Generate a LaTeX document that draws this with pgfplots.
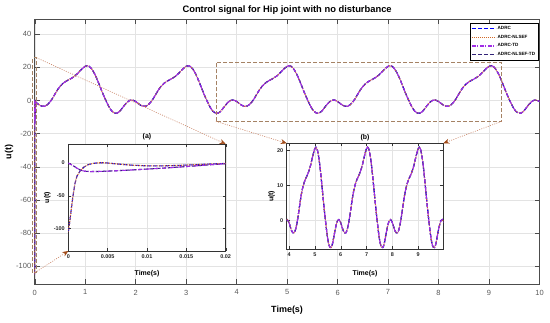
\documentclass[border=0pt]{standalone}
\usepackage{fontspec}
\setmainfont{Liberation Sans}
\usepackage{pgfplots}
\pgfplotsset{compat=1.18}
\usepackage{pgfplotstable}
\usetikzlibrary{arrows.meta}

\definecolor{cADRC}{RGB}{0,0,255}
\definecolor{cNLSEF}{RGB}{210,105,40}
\definecolor{cTD}{RGB}{160,45,230}
\definecolor{cNTD}{RGB}{50,35,120}
\definecolor{rectc}{RGB}{165,130,100}
\definecolor{arrc}{RGB}{160,75,25}
\definecolor{linec}{RGB}{200,130,100}

\pgfplotstableread[row sep=\\]{
t u\\
0.02 -1.0\\ 0.05 -1.8\\ 0.10 -2.9\\ 0.15 -3.5\\ 0.20 -3.5\\ 0.25 -2.6\\ 0.30 -1.0\\ 0.35 1.2\\ 0.40 3.8\\ 0.45 6.3\\
0.50 8.4\\ 0.55 10.0\\ 0.60 11.2\\ 0.65 12.1\\ 0.70 12.9\\ 0.75 13.8\\ 0.80 14.9\\ 0.85 16.3\\ 0.90 17.9\\ 0.95 19.4\\
1.00 20.6\\ 1.04 21.0\\ 1.08 20.6\\ 1.13 19.0\\ 1.18 16.5\\ 1.23 13.2\\ 1.28 9.5\\ 1.33 5.6\\ 1.38 2.0\\ 1.43 -1.3\\
1.48 -4.3\\ 1.53 -6.5\\ 1.58 -7.6\\ 1.63 -7.7\\ 1.68 -6.7\\ 1.73 -4.8\\ 1.78 -2.8\\ 1.83 -1.1\\ 1.88 0.0\\ 1.93 0.3\\
2.00 -0.6\\ 2.05 -1.8\\ 2.10 -2.9\\ 2.15 -3.5\\ 2.20 -3.5\\ 2.25 -2.6\\ 2.30 -1.0\\ 2.35 1.2\\ 2.40 3.8\\ 2.45 6.3\\
2.50 8.4\\ 2.55 10.0\\ 2.60 11.2\\ 2.65 12.1\\ 2.70 12.9\\ 2.75 13.8\\ 2.80 14.9\\ 2.85 16.3\\ 2.90 17.9\\ 2.95 19.4\\
3.00 20.6\\ 3.04 21.0\\ 3.08 20.6\\ 3.13 19.0\\ 3.18 16.5\\ 3.23 13.2\\ 3.28 9.5\\ 3.33 5.6\\ 3.38 2.0\\ 3.43 -1.3\\
3.48 -4.3\\ 3.53 -6.5\\ 3.58 -7.6\\ 3.63 -7.7\\ 3.68 -6.7\\ 3.73 -4.8\\ 3.78 -2.8\\ 3.83 -1.1\\ 3.88 0.0\\ 3.93 0.3\\
4.00 -0.6\\ 4.05 -1.8\\ 4.10 -2.9\\ 4.15 -3.5\\ 4.20 -3.5\\ 4.25 -2.6\\ 4.30 -1.0\\ 4.35 1.2\\ 4.40 3.8\\ 4.45 6.3\\
4.50 8.4\\ 4.55 10.0\\ 4.60 11.2\\ 4.65 12.1\\ 4.70 12.9\\ 4.75 13.8\\ 4.80 14.9\\ 4.85 16.3\\ 4.90 17.9\\ 4.95 19.4\\
5.00 20.6\\ 5.04 21.0\\ 5.08 20.6\\ 5.13 19.0\\ 5.18 16.5\\ 5.23 13.2\\ 5.28 9.5\\ 5.33 5.6\\ 5.38 2.0\\ 5.43 -1.3\\
5.48 -4.3\\ 5.53 -6.5\\ 5.58 -7.6\\ 5.63 -7.7\\ 5.68 -6.7\\ 5.73 -4.8\\ 5.78 -2.8\\ 5.83 -1.1\\ 5.88 0.0\\ 5.93 0.3\\
6.00 -0.6\\ 6.05 -1.8\\ 6.10 -2.9\\ 6.15 -3.5\\ 6.20 -3.5\\ 6.25 -2.6\\ 6.30 -1.0\\ 6.35 1.2\\ 6.40 3.8\\ 6.45 6.3\\
6.50 8.4\\ 6.55 10.0\\ 6.60 11.2\\ 6.65 12.1\\ 6.70 12.9\\ 6.75 13.8\\ 6.80 14.9\\ 6.85 16.3\\ 6.90 17.9\\ 6.95 19.4\\
7.00 20.6\\ 7.04 21.0\\ 7.08 20.6\\ 7.13 19.0\\ 7.18 16.5\\ 7.23 13.2\\ 7.28 9.5\\ 7.33 5.6\\ 7.38 2.0\\ 7.43 -1.3\\
7.48 -4.3\\ 7.53 -6.5\\ 7.58 -7.6\\ 7.63 -7.7\\ 7.68 -6.7\\ 7.73 -4.8\\ 7.78 -2.8\\ 7.83 -1.1\\ 7.88 0.0\\ 7.93 0.3\\
8.00 -0.6\\ 8.05 -1.8\\ 8.10 -2.9\\ 8.15 -3.5\\ 8.20 -3.5\\ 8.25 -2.6\\ 8.30 -1.0\\ 8.35 1.2\\ 8.40 3.8\\ 8.45 6.3\\
8.50 8.4\\ 8.55 10.0\\ 8.60 11.2\\ 8.65 12.1\\ 8.70 12.9\\ 8.75 13.8\\ 8.80 14.9\\ 8.85 16.3\\ 8.90 17.9\\ 8.95 19.4\\
9.00 20.6\\ 9.04 21.0\\ 9.08 20.6\\ 9.13 19.0\\ 9.18 16.5\\ 9.23 13.2\\ 9.28 9.5\\ 9.33 5.6\\ 9.38 2.0\\ 9.43 -1.3\\
9.48 -4.3\\ 9.53 -6.5\\ 9.58 -7.6\\ 9.63 -7.7\\ 9.68 -6.7\\ 9.73 -4.8\\ 9.78 -2.8\\ 9.83 -1.1\\ 9.88 0.0\\ 9.93 0.3\\
10.00 -0.6\\
}\steady

\pgfplotstableread[row sep=\\]{
t u\\
0 -105\\ 0.0002 -88\\ 0.0004 -68\\ 0.0006 -50\\ 0.00085 -31\\ 0.0011 -20\\ 0.0015 -12\\ 0.002 -6\\ 0.0025 -2.6\\
0.0032 -0.5\\ 0.004 0.5\\ 0.0048 0.3\\ 0.006 -1.2\\ 0.008 -3.2\\ 0.010 -4.3\\ 0.012 -4.3\\ 0.014 -3.6\\ 0.016 -2.6\\
0.018 -1.5\\ 0.020 -0.6\\
}\transN

\pgfplotstableread[row sep=\\]{
t u\\
0 0\\ 0.0004 -2.5\\ 0.0008 -5.5\\ 0.0012 -8.5\\ 0.0016 -11\\ 0.0021 -12.5\\ 0.0028 -13\\ 0.004 -12.8\\ 0.006 -11.8\\
0.008 -10.6\\ 0.010 -9.2\\ 0.012 -7.8\\ 0.014 -6.2\\ 0.016 -4.5\\ 0.018 -2.6\\ 0.020 -1\\
}\transT

\pgfplotsset{
  sA/.style={cADRC, line width=1.1pt, dash pattern=on 4bp off 2bp},
  sB/.style={cNLSEF, line width=1.1pt, dash pattern=on 1bp off 1bp},
  sC/.style={cTD, line width=1.1pt, dash pattern=on 4bp off 1.5bp on 1bp off 1.5bp},
  sD/.style={cNTD, line width=1.1pt, dash pattern=on 4bp off 2bp},
  inset/.style={
    scale only axis, axis background/.style={fill=white},
    grid=major, grid style={gray!22, line width=0.4pt},
    tick align=inside, major tick length=3bp,
    axis line style={black!80, line width=0.6pt},
    tick style={black!80, line width=0.4pt},
    ticklabel style={font=\fontsize{5.5}{6}\selectfont\bfseries, text=black!85},
    /pgf/number format/assume math mode=true,
    scaled ticks=false,
    title style={font=\fontsize{7}{8}\selectfont\bfseries, anchor=center},
    label style={font=\fontsize{7}{8}\selectfont\bfseries},
  },
}

\begin{document}
\begin{tikzpicture}
\useasboundingbox (0,0) rectangle (550bp,323bp);
\begin{axis}[
  name=main, at={(34.7bp,38.7bp)}, anchor=south west,
  width=504.8bp, height=265bp, scale only axis,
  xmin=0, xmax=10, ymin=-111, ymax=49,
  xtick={0,1,...,10}, ytick={-100,-80,...,40},
  grid=major, grid style={gray!22, line width=0.4pt},
  tick align=inside, major tick length=5bp,
  tick style={gray!60!black, line width=0.4pt},
  axis line style={gray!60!black, line width=0.5pt},
  ticklabel style={font=\fontsize{7.5}{8}\selectfont, text=gray!70!black},
  xticklabel style={yshift=-2bp},
  /pgf/number format/assume math mode=true,
  title={Control signal for Hip joint with no disturbance},
  title style={font=\fontsize{9.4}{10}\selectfont\bfseries, at={(axis description cs:0.5,1)}, anchor=center, yshift=3pt},
  xlabel={Time(s)},
  xlabel style={font=\fontsize{9}{10}\selectfont\bfseries, at={(axis description cs:0.5,-0.097)}, anchor=center},
  ylabel={u(t)},
  ylabel style={font=\fontsize{9}{10}\selectfont\bfseries, at={(axis description cs:-0.051,0.5)}, anchor=center},
  clip=false,
  legend image code/.code={\draw[#1] (0bp,0bp) -- (24bp,0bp);},
  legend cell align=left,
  legend style={at={(axis description cs:0.997,0.986)}, anchor=north east,
    font=\fontsize{4.6}{5}\selectfont\bfseries, draw=black, line width=0.4pt,
    fill=white, inner sep=1.5bp, row sep=1.8bp,
    nodes={inner sep=1.2bp}},
]
\addplot[sD, smooth, forget plot] table[x=t,y=u] {\steady};
\addplot[sD, forget plot] table[x=t,y=u] {\transT};
\addplot[sA, smooth] table[x=t,y=u] {\steady};
\addlegendentry{ADRC}
\addplot[sB, smooth] table[x=t,y=u] {\steady};
\addlegendentry{ADRC-NLSEF}
\addplot[sC, smooth] table[x=t,y=u] {\steady};
\addlegendentry{ADRC-TD}
\addlegendimage{sD}
\addlegendentry{ADRC-NLSEF-TD}
\addplot[sA, forget plot] table[x=t,y=u] {\transN};
\addplot[sB, forget plot] table[x=t,y=u] {\transN};
\addplot[sC, forget plot] table[x=t,y=u] {\transT};
\draw[rectc, line width=0.7pt, dash pattern=on 4bp off 2bp] (axis cs:-0.04,-104) rectangle (axis cs:0.035,25.8);
\draw[rectc, line width=0.7pt, dash pattern=on 4bp off 2bp] (axis cs:3.59,-12.6) rectangle (axis cs:9.25,22.8);
\coordinate (A1) at (axis cs:0.035,25.8);
\coordinate (A2) at (axis cs:0.005,-104);
\coordinate (B1) at (axis cs:3.59,-12.6);
\coordinate (B2) at (axis cs:9.25,-12.6);
\end{axis}

\begin{axis}[inset,
  name=insA, at={(68.3bp,72bp)}, anchor=south west,
  width=157.4bp, height=107bp,
  xmin=0, xmax=0.02, ymin=-134, ymax=29,
  xtick={0,0.005,0.01,0.015,0.02}, xticklabels={0,0.005,0.01,0.015,0.02},
  ytick={-100,-50,0},
  title={(a)}, title style={at={(axis description cs:0.5,1)}, yshift=1pt},
  xlabel={Time(s)}, xlabel style={at={(axis description cs:0.5,-0.215)}, anchor=center},
  ylabel={u(t)}, ylabel style={at={(axis description cs:-0.133,0.5)}, anchor=center},
]
\addplot[sD] table[x=t,y=u] {\transT};
\addplot[sA] table[x=t,y=u] {\transN};
\addplot[sB] table[x=t,y=u] {\transN};
\addplot[sC] table[x=t,y=u] {\transT};
\end{axis}

\begin{axis}[inset,
  name=insB, at={(286.7bp,73.7bp)}, anchor=south west,
  width=156.6bp, height=106bp,
  xmin=3.91, xmax=9.97, ymin=-8.2, ymax=22.1,
  xtick={4,5,...,9}, ytick={0,10,20},
  title={(b)}, title style={at={(axis description cs:0.5,1)}},
  xlabel={Time(s)}, xlabel style={at={(axis description cs:0.5,-0.226)}, anchor=center},
  ylabel={u(t)}, ylabel style={at={(axis description cs:-0.096,0.5)}, anchor=center},
]
\addplot[sD, smooth] table[x=t,y=u] {\steady};
\addplot[sA, smooth] table[x=t,y=u] {\steady};
\addplot[sB, smooth] table[x=t,y=u] {\steady};
\addplot[sC, smooth] table[x=t,y=u] {\steady};
\end{axis}

\tikzset{conn/.style={linec, line width=0.6pt, dash pattern=on 1bp off 1.3bp,
  -{Stealth[length=6bp,width=5bp,color=arrc]}}}
\draw[conn] (A1) -- (insA.north east);
\draw[conn] (A2) -- (insA.south west);
\draw[conn] (B1) -- (insB.north west);
\draw[conn] (B2) -- (insB.north east);
\end{tikzpicture}
\end{document}
